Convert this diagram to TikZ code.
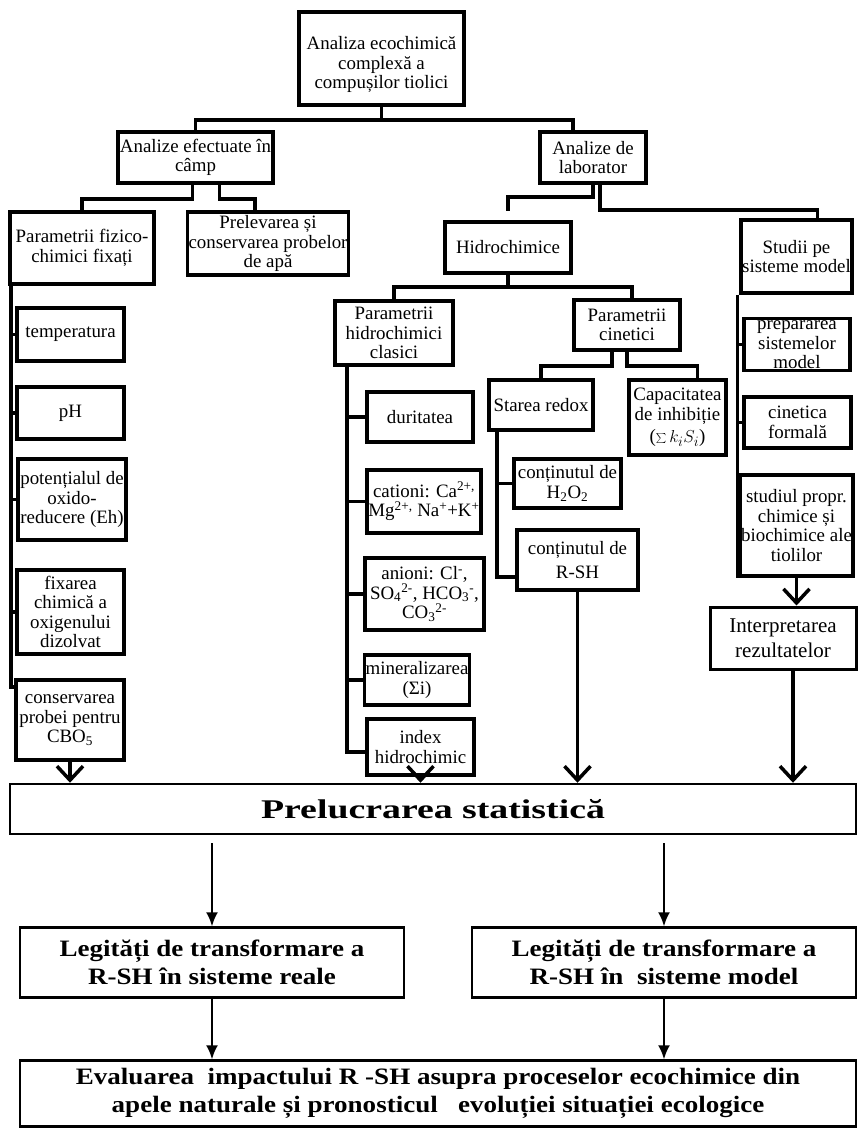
\documentclass[tikz,border=0pt]{standalone}
\usepackage{fontspec}
\setmainfont{Liberation Serif}
\newfontfamily\widebold[FakeStretch=1.15]{Liberation Serif}
\newfontfamily\widerbold[FakeStretch=1.4]{Liberation Serif}
\usetikzlibrary{arrows.meta}

\begin{document}
\begin{tikzpicture}[
    x=1pt, y=-1pt,
    font=\fontsize{18.9}{19.5}\selectfont,
    boxsize/.style 2 args={minimum width=#1pt, minimum height=#2pt},
    box/.style={draw, rectangle, line width=3.5pt, align=center, inner sep=1pt},
    lowbox/.style={draw, rectangle, line width=2.5pt, align=center, inner sep=1pt,
        font=\widebold\bfseries\fontsize{23.5}{28}\selectfont},
    link/.style={line width=3.5pt},
    thickarrow/.style={line width=3.5pt, -{Straight Barb[length=14pt, width=26pt]}},
    thinarrow/.style={line width=2pt, -{Latex[length=14pt, width=12pt]}}
]
\useasboundingbox (0,0) rectangle (860,1130);

% 1. Nivelul de sus
\node[box, boxsize={165}{93}, text height=64pt, text depth=4pt] (root) at (381.5,58.5) {Analiza ecochimică\\complexă a\\compușilor tiolici};
\node[box, boxsize={155}{51}] (field) at (195.5,157.5) {Analize efectuate în\\câmp};
\node[box, boxsize={106}{51}] (lab) at (593,157.5) {Analize de\\laborator};

% 2. Analize in camp
\node[box, boxsize={144}{72}] (physchem) at (82,248) {Parametrii fizico-\\chimici fixați};
\node[box, boxsize={158}{63}] (sampling) at (268,243.5) {Prelevarea și\\conservarea probelor\\de apă};
\node[box, boxsize={107}{53}] (temp) at (70.5,334.5) {temperatura};
\node[box, boxsize={107}{52}] (ph) at (70.5,413) {pH};
\node[box, boxsize={108}{81}] (redpot) at (72,499.5) {potențialul de\\oxido-\\reducere (Eh)};
\node[box, boxsize={107}{84}] (oxygen) at (70.5,612) {fixarea\\chimică a\\oxigenului\\dizolvat};
\node[box, boxsize={108}{80}] (bod) at (70,720) {conservarea\\probei pentru\\CBO\textsubscript{5}};

% 3. Analize de laborator
\node[box, boxsize={126}{51}] (hydro) at (508,247.5) {Hidrochimice};
\node[box, boxsize={109}{73}] (model) at (796.5,256.5) {Studii pe\\sisteme model};
\node[box, boxsize={118}{64}] (classic) at (394,333) {Parametrii\\hidrochimici\\clasici};
\node[box, boxsize={106}{50}] (kinetic) at (627,325) {Parametrii\\cinetici};
\node[box, boxsize={104}{50}] (redox) at (541,405) {Starea redox};
\node[box, boxsize={97}{75}] (inhib) at (677.5,417.5) {Capacitatea\\de inhibiție\\[3pt]($\textstyle\sum k_i S_i$)};
\node[box, boxsize={107}{49}] (perox) at (567.5,483.5) {conținutul de\\H\textsubscript{2}O\textsubscript{2}};
\node[box, boxsize={121}{60}] (thiol) at (577.5,560) {conținutul de\\[5pt]R-SH};

\node[box, boxsize={106}{50}] (hardness) at (420,417) {duritatea};
\node[box, boxsize={114}{63}] (cations) at (424,501.5) {cationi: Ca\textsuperscript{2+,}\\Mg\textsuperscript{2+,} Na\textsuperscript{+}+K\textsuperscript{+}};
\node[box, boxsize={119}{72}] (anions) at (424.5,594) {anioni: Cl\textsuperscript{-},\\SO\textsubscript{4}\textsuperscript{2-}, HCO\textsubscript{3}\textsuperscript{-},\\CO\textsubscript{3}\textsuperscript{2-}};
\node[box, boxsize={104}{50}] (mineral) at (417,680) {mineralizarea\\(Σi)};
\node[box, boxsize={107}{56}] (hindex) at (420.5,747) {index\\hidrochimic};

\node[box, boxsize={106}{51}, text height=50pt, text depth=2pt, inner ysep=0pt] (prep) at (797,344.5) {prepararea\\sistemelor\\model};
\node[box, boxsize={107}{51}] (cinform) at (797.5,422.5) {cinetica\\formală};
\node[box, boxsize={113}{101}] (studyprop) at (796.5,525.5) {studiul propr.\\chimice și\\biochimice ale\\tiolilor};
\node[box, boxsize={146}{62}, line width=3pt, font=\fontsize{21}{25}\selectfont] (interp) at (783,638) {Interpretarea\\rezultatelor};

% 4. Partea de jos
\node[lowbox, boxsize={846}{50}, font=\widerbold\bfseries\fontsize{27}{30}\selectfont] (prel) at (433,809) {Prelucrarea statistică};
\node[lowbox, boxsize={384}{70}] (realsys) at (212,962.5) {Legități de transformare a\\R-SH în sisteme reale};
\node[lowbox, boxsize={384}{70}] (modelsys) at (664,962.5) {Legități de transformare a\\R-SH în\ \ sisteme model};
\node[lowbox, boxsize={836}{66}] (impact) at (438,1093.5) {Evaluarea\ \ impactului R -SH asupra proceselor ecochimice din\\apele naturale și pronosticul\ \ \ evoluției situației ecologice};

% --- Legaturi ---
\draw[link] (root.south) -- ++(0,13) -| (field.north);
\draw[link] (root.south) -- ++(0,13) -| ([xshift=-20pt]lab.north);

\draw[link] ([xshift=-3pt]field.south) -- ++(0,14) -| (physchem.north);
\draw[link] ([xshift=24pt]field.south) -- ++(0,14) -| ([xshift=-13pt]sampling.north);

\draw[link, shorten >=9pt] (lab.south) -- ++(0,12) -| (hydro.north);
\draw[link] ([xshift=7pt]lab.south) -- ++(0,25) -| ([xshift=21pt]model.north);

\draw[link] (hydro.south) -- ++(0,12) -| (classic.north);
\draw[link] (hydro.south) -- ++(0,12) -| ([xshift=5pt]kinetic.north);

\draw[link] ([xshift=-15pt]kinetic.south) -- ++(0,14) -| (redox.north);
\draw[link] (kinetic.south) -- ++(0,14) -| ([xshift=20pt]inhib.north);

\draw[link] ([xshift=-44pt]redox.south) |- (perox.west);
\draw[link] ([xshift=-44pt]redox.south) |- ([yshift=-17pt]thiol.west);

% ramuri laterale
\foreach \n in {temp, ph, redpot, oxygen}
    \draw[link] ([xshift=-71pt]physchem.south) |- (\n.west);
\draw[link] ([xshift=-71pt]physchem.south) |- ([yshift=33pt]bod.west);

\foreach \n in {hardness, cations, anions, mineral}
    \draw[link] ([xshift=-47pt]classic.south) |- (\n.west);
\draw[link] ([xshift=-47pt]classic.south) |- ([yshift=-5pt]hindex.west);

\foreach \n in {prep, cinform, studyprop}
    \draw[link] ([xshift=-59pt]model.south) |- (\n.west);
\draw[link] ([xshift=-59pt]model.south) -- ([xshift=-59pt]model.south |- studyprop.south);

% --- Sageti ---
\draw[thickarrow] (bod.south) -- (bod.south |- prel.north);
\draw[thickarrow] (hindex.south) -- (hindex.south |- prel.north);
\draw[thickarrow] (thiol.south) -- (thiol.south |- prel.north);
\draw[thickarrow] (studyprop.south) -- (studyprop.south |- interp.north);
\draw[thickarrow] ([xshift=10pt]interp.south) -- ([xshift=10pt]interp.south |- prel.north);

\draw[thinarrow, shorten <=8pt] (realsys.north |- prel.south) -- (realsys.north);
\draw[thinarrow, shorten <=8pt] (modelsys.north |- prel.south) -- (modelsys.north);
\draw[thinarrow] (realsys.south) -- (realsys.south |- impact.north);
\draw[thinarrow] (modelsys.south) -- (modelsys.south |- impact.north);

\end{tikzpicture}
\end{document}
